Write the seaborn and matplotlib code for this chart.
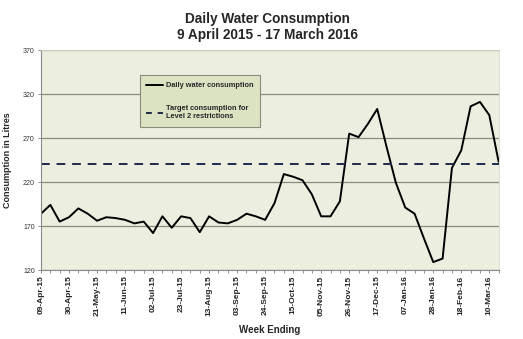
import matplotlib
matplotlib.use("Agg")
import matplotlib.pyplot as plt
import matplotlib.dates as mdates
from matplotlib.lines import Line2D
import numpy as np
import pandas as pd
import seaborn as sns

# Week-ending dates (weekly, 9 Apr 2015 - 17 Mar 2016)
week_ending = pd.date_range("2015-04-09", "2016-03-17", freq="7D")

# Average daily consumption per week, litres
daily_litres = [
    184, 194, 175, 180, 190, 184, 176, 180, 179, 177,
    173, 175, 162, 181, 168, 181, 179, 163, 181, 174,
    173, 177, 184, 181, 177, 196, 229, 226, 222, 206,
    181, 181, 198, 275, 271, 286, 303, 260, 219, 191,
    184, 156, 129, 133, 236, 256, 306, 311, 296, 243,
]

target_litres = 240
y_ticks = [120, 170, 220, 270, 320, 370]

df = pd.DataFrame({"week": week_ending, "litres": daily_litres})

sns.set_theme(style="white")
plt.rcParams["font.family"] = ["Liberation Sans", "DejaVu Sans"]

fig = plt.figure(figsize=(5.23, 3.39), dpi=100)
ax = fig.add_axes([0.0784, 0.2035, 0.875, 0.649])
ax.set_facecolor("#ECEEE0")

sns.lineplot(data=df, x="week", y="litres", ax=ax, color="black", lw=1.4,
             label="Daily water consumption", legend=False)
ax.axhline(target_litres, color="#1F2A4A", lw=1.4, ls=(0, (4.5, 3.5)))

ax.set_ylim(y_ticks[0], y_ticks[-1])
ax.set_yticks(y_ticks)
ax.set_xlim(week_ending[0], week_ending[-1])
ax.yaxis.grid(True, color="#8A8C80", lw=0.9)
ax.set_axisbelow(True)

ax.set_xticks(week_ending[::3])
ax.xaxis.set_major_formatter(mdates.DateFormatter("%d-%b-%y"))
ax.set_xticks(week_ending, minor=True)
ax.tick_params(axis="x", which="both", direction="out", bottom=True,
               length=2.5, width=0.6, color="#808080", pad=1.5)
ax.tick_params(axis="x", labelsize=6, labelrotation=90)
ax.tick_params(axis="y", labelsize=5, left=True, length=2.5, width=0.6,
               color="#808080", pad=2, labelcolor="#333333")
for lbl in ax.get_xticklabels():
    lbl.set_fontweight("bold")
    lbl.set_color("#222222")

for side in ["top", "right"]:
    ax.spines[side].set_color("#D8DACC")
    ax.spines[side].set_linewidth(0.6)
for side in ["left", "bottom"]:
    ax.spines[side].set_color("#8A8A8A")
    ax.spines[side].set_linewidth(0.8)

ax.set_xlabel("Week Ending", fontsize=7, fontweight="bold")
ax.xaxis.set_label_coords(0.5, -0.25)
ax.set_ylabel("Consumption in Litres", fontsize=6.5, fontweight="bold")
ax.yaxis.set_label_coords(-0.063, 0.5)

fig.text(0.512, 0.965, "Daily Water Consumption\n9 April 2015 - 17 March 2016",
         ha="center", va="top", fontsize=9.8, fontweight="bold",
         linespacing=1.2)

handles = [
    Line2D([], [], color="black", lw=1.4),
    Line2D([], [], color="#1F2A4A", lw=1.4, ls=(0, (3, 3))),
]
leg = ax.legend(handles,
                ["Daily water consumption",
                 "Target consumption for\nLevel 2 restrictions"],
                loc="upper left", bbox_to_anchor=(0.216, 0.885),
                prop={"weight": "bold", "size": 5.3},
                frameon=True, fancybox=False, handlelength=2.2,
                handletextpad=0.4, labelspacing=2.2, borderpad=0.9,
                borderaxespad=0)
leg.get_frame().set_facecolor("#DCE3C3")
leg.get_frame().set_edgecolor("#8A8C80")
leg.get_frame().set_linewidth(0.8)
leg.get_frame().set_alpha(1)

fig.savefig("out.png", dpi=100)
